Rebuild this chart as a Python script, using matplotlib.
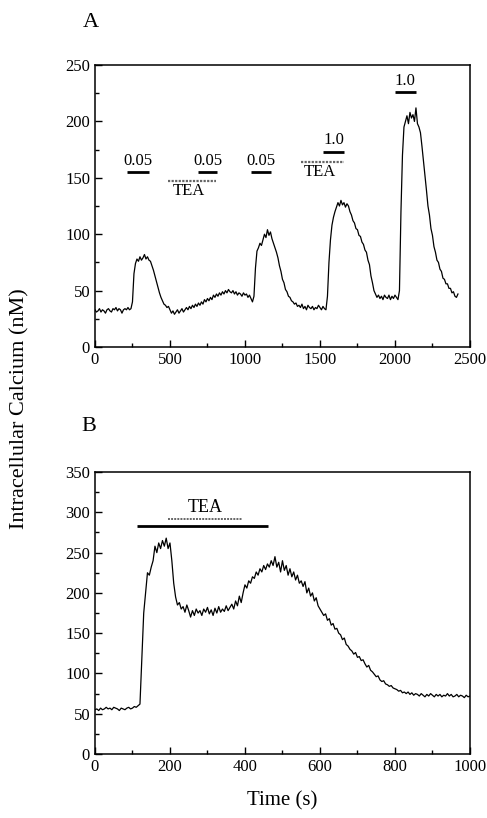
import numpy as np
import matplotlib
matplotlib.use("Agg")
import matplotlib.pyplot as plt
from matplotlib.ticker import MultipleLocator

plt.rcParams['font.family'] = ['Liberation Serif', 'DejaVu Serif']

# ---- panel A trace (10 s sampling) ----
time_a = np.arange(0, 2421, 10)
calcium_a = [
    33, 31, 32, 34, 31, 33, 32, 30, 33, 34, 32, 31, 34, 33, 35, 32, 34, 33, 30, 33, 34, 33, 35, 33, 34,
    40, 65, 74, 78, 76, 80, 77, 79, 82, 78, 80, 77, 76, 72, 68, 63, 58, 53, 48, 44, 41, 38, 37, 35, 36,
    33, 30, 32, 29, 31, 33, 30, 32, 34, 31, 33, 35, 33, 36, 34, 37, 35, 38, 36, 39,
    37, 40, 38, 42, 40, 43, 41, 44, 42, 46, 44, 47, 45, 48, 46, 49, 47, 50, 48, 51,
    49, 48, 50, 47, 49, 46, 48, 47, 45, 48, 46, 47, 44, 46, 43, 40, 45, 70, 85, 88,
    92, 90, 95, 100, 97, 104, 99, 102, 96, 92, 88, 84, 79, 72, 67, 60, 57, 51, 49, 45,
    44, 41, 40, 38, 39, 36, 37, 35, 38, 34, 36, 33, 37, 35, 34, 36, 33, 35, 34, 37,
    35, 33, 36, 34, 33, 45, 75, 95, 108, 115, 120, 124, 128, 125, 130, 126, 128, 124, 127, 125,
    120, 117, 112, 110, 105, 104, 99, 98, 93, 91, 86, 84, 77, 73, 63, 57, 50, 47, 44, 46,
    43, 45, 42, 46, 44, 43, 46, 42, 45, 43, 46, 44, 42, 50, 120, 170, 195, 200, 205, 198,
    208, 203, 206, 200, 212, 198, 195, 190, 178, 165, 152, 139, 125, 117, 105, 99, 89, 84, 77, 75,
    69, 67, 61, 60, 56, 56, 52, 52, 48, 49, 45, 44, 47,
]

# ---- panel B trace (5 s sampling) ----
time_b = np.arange(0, 1001, 5)
calcium_b = [
    55, 56, 54, 57, 55, 56, 58, 56, 57, 55, 58, 57, 56, 54, 57, 56, 55, 57, 58, 56, 57, 59, 58, 60,
    62, 120, 175, 200, 225, 222, 232, 240, 258, 250, 262, 255, 265, 258, 268, 255, 262, 240, 212, 195,
    185, 188, 180, 183, 176, 185, 178, 170, 178, 172, 180, 175, 178, 172, 180, 176, 182, 174, 179, 172,
    181, 175, 183, 176, 180, 177, 184, 178, 182, 186, 180, 190, 184, 196, 188, 200, 210, 206, 215, 212,
    220, 218, 226, 222, 230, 226, 234, 229, 236, 232, 240, 234, 245, 232, 238, 226, 240, 228, 234, 222,
    230, 220, 226, 216, 222, 212, 215, 208, 214, 200, 206, 196, 200, 190, 194, 184, 180,
    176, 172, 174, 166, 168, 160, 162, 155, 156, 150, 148, 142, 144, 136, 134, 130, 128, 124, 126, 120,
    121, 116, 117, 112, 108, 110, 104, 102, 99, 96, 97, 92, 90, 91, 87, 86, 84, 85, 82, 81,
    80, 78, 79, 76, 77, 75, 77, 74, 76, 73, 75, 74, 72, 75, 73, 71, 74, 72, 75, 73,
    71, 74, 72, 74, 71, 73, 72, 75, 72, 74, 71, 72, 74, 71, 73, 72, 70, 73, 71, 72,
]

# ---- stimulus bars: (start, end, y, label) ----
a_black = [(211, 362, 155, "0.05"), (689, 811, 155, "0.05"), (1040, 1173, 155, "0.05"),
           (1522, 1662, 173, "1.0"), (2000, 2138, 226, "1.0")]
a_gray = [(484, 807, 147), (1373, 1660, 164)]
b_black = [(111, 462, 283)]
b_gray = [(196, 391, 292)]

fig = plt.figure(figsize=(4.87, 8.18), dpi=100)
ax_a = fig.add_axes([0.195, 0.5758, 0.770, 0.3447])
ax_b = fig.add_axes([0.195, 0.0782, 0.770, 0.3447])

for ax in (ax_a, ax_b):
    ax.tick_params(direction='in', which='both', labelsize=12, width=1)
    ax.tick_params(which='major', length=5)
    ax.tick_params(which='minor', length=3)
    for sp in ax.spines.values():
        sp.set_linewidth(1.1)

# panel A
ax_a.plot(time_a, calcium_a[:len(time_a)], color='black', lw=0.9)
ax_a.set_xlim(0, 2500)
ax_a.set_ylim(0, 250)
ax_a.xaxis.set_major_locator(MultipleLocator(500))
ax_a.xaxis.set_minor_locator(MultipleLocator(250))
ax_a.yaxis.set_major_locator(MultipleLocator(50))
ax_a.yaxis.set_minor_locator(MultipleLocator(25))
for x0, x1, y, lab in a_black:
    ax_a.plot([x0, x1], [y, y], color='black', lw=2, solid_capstyle='butt')
    ax_a.text((x0 + x1) / 2, y + 3, lab, ha='center', va='bottom', fontsize=12)
for x0, x1, y in a_gray:
    ax_a.plot([x0, x1], [y, y], color='#666666', lw=1.6, ls=(0, (1, 0.6)))
    ax_a.text((x0 + x1) / 2 - 20, y - 2, "TEA", ha='center', va='top', fontsize=12)
ax_a.text(-0.032, 1.152, "A", transform=ax_a.transAxes, fontsize=16, ha='left', va='center')

# panel B
ax_b.plot(time_b, calcium_b, color='black', lw=0.9)
ax_b.set_xlim(0, 1000)
ax_b.set_ylim(0, 350)
ax_b.xaxis.set_major_locator(MultipleLocator(200))
ax_b.xaxis.set_minor_locator(MultipleLocator(100))
ax_b.yaxis.set_major_locator(MultipleLocator(50))
ax_b.yaxis.set_minor_locator(MultipleLocator(25))
for x0, x1, y in b_black:
    ax_b.plot([x0, x1], [y, y], color='black', lw=2, solid_capstyle='butt')
for x0, x1, y in b_gray:
    ax_b.plot([x0, x1], [y, y], color='#666666', lw=1.4, ls=(0, (1, 0.6)))
    ax_b.text((x0 + x1) / 2, y + 3, "TEA", ha='center', va='bottom', fontsize=13)
ax_b.text(-0.035, 1.16, "B", transform=ax_b.transAxes, fontsize=16, ha='left', va='center')
ax_b.set_xlabel("Time (s)", fontsize=15, labelpad=12)

fig.text(0.04, 0.5, "Intracellular Calcium (nM)", rotation=90, fontsize=16,
         ha='center', va='center')

fig.savefig("out.png", dpi=100, facecolor='white')
